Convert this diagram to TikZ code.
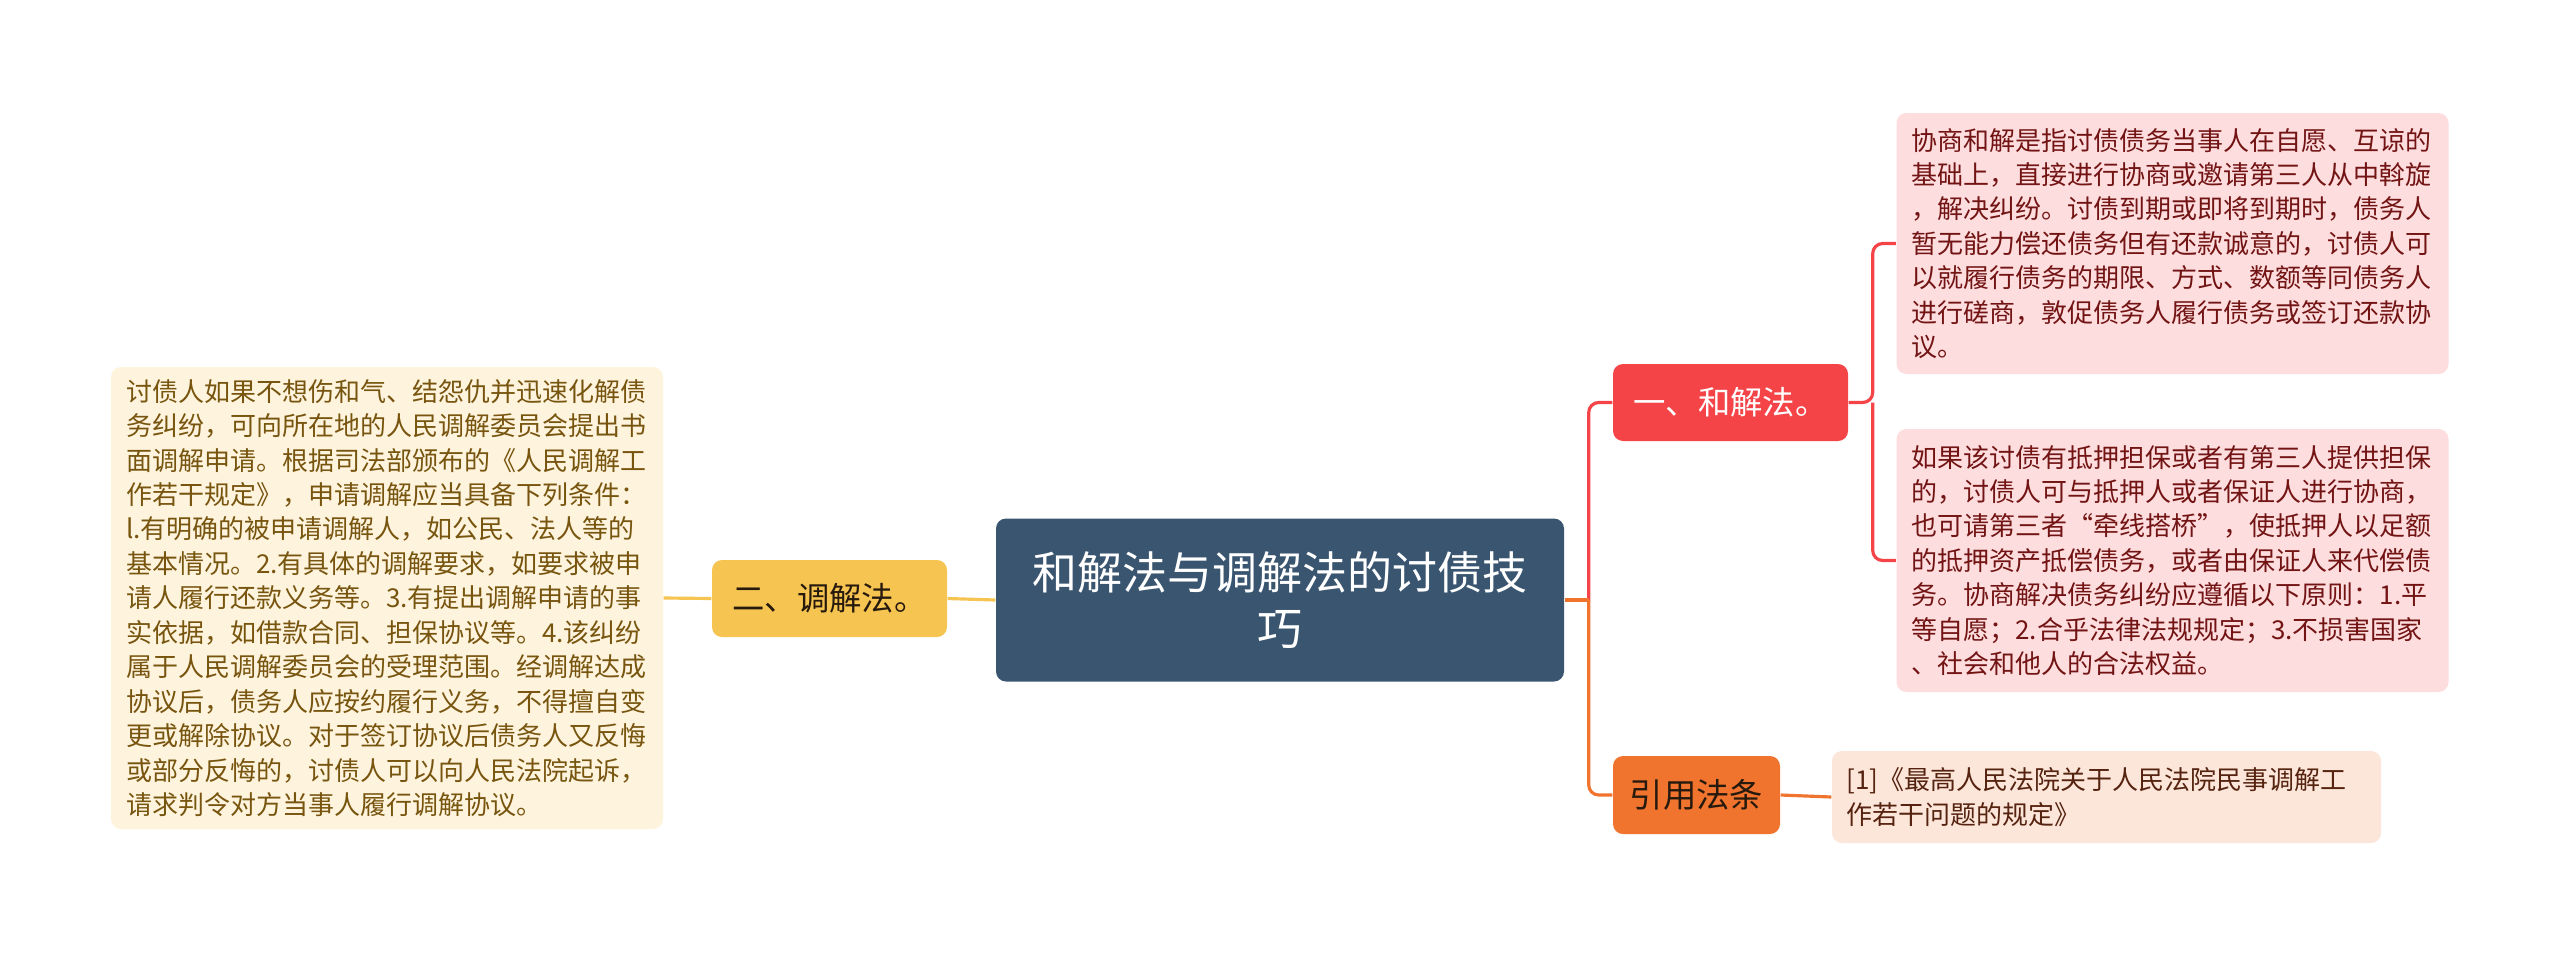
\documentclass[tikz,border=0pt]{standalone}
\usepackage{fontspec}
\setmainfont{Noto Sans CJK SC}
\usetikzlibrary{positioning, calc}
\definecolor{rootblue}{RGB}{58, 85, 112}
\definecolor{settlered}{RGB}{244, 68, 72}
\definecolor{settlepink}{RGB}{253, 221, 222}
\definecolor{settleink}{RGB}{115, 20, 20}
\definecolor{mediateyellow}{RGB}{246, 196, 80}
\definecolor{mediatecream}{RGB}{254, 244, 222}
\definecolor{mediateink}{RGB}{120, 85, 15}
\definecolor{citeorange}{RGB}{240, 116, 46}
\definecolor{citepeach}{RGB}{252, 230, 218}
\definecolor{citeink}{RGB}{85, 35, 15}

\tikzset{
  topic/.style={rounded corners=0.1cm, inner sep=0pt, align=center,
    minimum width=2.35cm, minimum height=0.77cm, font=\fontsize{9.2pt}{10pt}\selectfont},
  leaf/.style={rounded corners=0.1cm, inner xsep=0.15cm, inner ysep=0pt, align=left,
    text width=5.22cm, font=\fontsize{7.4pt}{9.8pt}\selectfont},
  link/.style={line width=0.9pt, rounded corners=0.1cm}
}

\begin{document}
\begin{tikzpicture}
  \fill[white] (0,0) rectangle (25.6,-9.55);
  \useasboundingbox (0,0) rectangle (25.6,-9.55);

  \node[fill=rootblue, text=white, rounded corners=0.1cm, align=center, minimum width=5.68cm,
    minimum height=1.63cm, inner sep=0pt, font=\fontsize{12.8pt}{15.9pt}\selectfont]
    (root) at (12.80,-6.00) {和解法与调解法的讨债技\\巧};

  \node[topic, fill=mediateyellow, text=black!80!brown] (mediate) at (8.295,-5.985) {二、调解法。};
  \node[leaf, fill=mediatecream, text=mediateink, minimum height=4.62cm] (mediatetext) at (3.87,-5.98) {
    讨债人如果不想伤和气、结怨仇并迅速化解债\\
    务纠纷，可向所在地的人民调解委员会提出书\\
    面调解申请。根据司法部颁布的《人民调解工\\
    作若干规定》，申请调解应当具备下列条件：\\
    l.有明确的被申请调解人，如公民、法人等的\\
    基本情况。2.有具体的调解要求，如要求被申\\
    请人履行还款义务等。3.有提出调解申请的事\\
    实依据，如借款合同、担保协议等。4.该纠纷\\
    属于人民调解委员会的受理范围。经调解达成\\
    协议后，债务人应按约履行义务，不得擅自变\\
    更或解除协议。对于签订协议后债务人又反悔\\
    或部分反悔的，讨债人可以向人民法院起诉，\\
    请求判令对方当事人履行调解协议。};

  \node[topic, fill=settlered, text=white] (settle) at (17.305,-4.025) {一、和解法。};
  \node[leaf, fill=settlepink, text=settleink, minimum height=2.61cm] (settletexta) at (21.725,-2.435) {
    协商和解是指讨债债务当事人在自愿、互谅的\\
    基础上，直接进行协商或邀请第三人从中斡旋\\
    ，解决纠纷。讨债到期或即将到期时，债务人\\
    暂无能力偿还债务但有还款诚意的，讨债人可\\
    以就履行债务的期限、方式、数额等同债务人\\
    进行磋商，敦促债务人履行债务或签订还款协\\
    议。};
  \node[leaf, fill=settlepink, text=settleink, minimum height=2.63cm] (settletextb) at (21.725,-5.605) {
    如果该讨债有抵押担保或者有第三人提供担保\\
    的，讨债人可与抵押人或者保证人进行协商，\\
    也可请第三者“牵线搭桥”，使抵押人以足额\\
    的抵押资产抵偿债务，或者由保证人来代偿债\\
    务。协商解决债务纠纷应遵循以下原则：1.平\\
    等自愿；2.合乎法律法规规定；3.不损害国家\\
    、社会和他人的合法权益。};

  \node[topic, fill=citeorange, text=black!80!brown, minimum width=1.67cm, minimum height=0.78cm,
    font=\fontsize{9.5pt}{10pt}\selectfont] (cite) at (16.965,-7.95) {引用法条};
  \node[leaf, fill=citepeach, text=citeink, minimum height=0.92cm, text width=5.2cm, inner xsep=0.145cm]
    (citetext) at (21.065,-7.97) {
    [1]《最高人民法院关于人民法院民事调解工\\
    作若干问题的规定》};

  \coordinate (rootjoint) at ($(root.east)+(0.24,0)$);
  \coordinate (settlejoint) at ($(settle.east)+(0.24,0)$);

  \draw[link, draw=mediateyellow] (root.west) -- (mediate.east);
  \draw[link, draw=mediateyellow] (mediate.west) -- (mediatetext.east);
  \draw[link, draw=settlered] (rootjoint) |- (settle.west);
  \draw[link, draw=citeorange] (rootjoint) |- (cite.west);
  \draw[link, draw=citeorange] (root.east) -- (rootjoint);
  \draw[link, draw=settlered] (settle.east) -- (settlejoint) |- (settletexta.west);
  \draw[link, draw=settlered] (settlejoint) |- (settletextb.west);
  \draw[link, draw=citeorange] (cite.east) -- (citetext.west);
\end{tikzpicture}
\end{document}
